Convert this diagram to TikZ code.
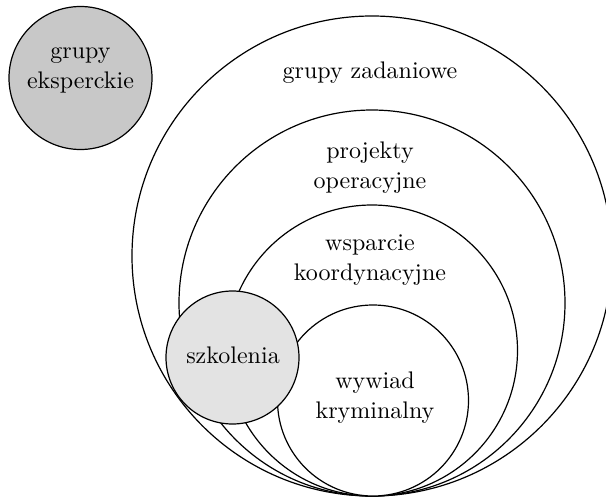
\documentclass[tikz,border=0pt]{standalone}
\usepackage{fontspec}
\setmainfont{lmroman10-regular.otf}
\begin{document}
\begin{tikzpicture}[x=1pt,y=-1pt,
  ring/.style={circle,draw=black,line width=1.2pt,inner sep=0pt,fill=white},
  grey/.style={circle,draw=black,line width=1.2pt,inner sep=0pt},
  lbl/.style={align=center,inner sep=0pt,font=\fontsize{24}{30}\selectfont}]
\useasboundingbox (0,0) rectangle (606,498);
\definecolor{darkgrey}{HTML}{C8C8C8}
\definecolor{lightgrey}{HTML}{E3E3E3}
\node[ring,minimum size=480pt] (zad) at (372,256) {};
\node[ring,minimum size=386pt] (proj) at (372,303) {};
\node[ring,minimum size=291pt] (wsp) at (372,350.5) {};
\node[ring,minimum size=191pt] (wyw) at (373,400.5) {};
\node[grey,fill=lightgrey,minimum size=133pt] (szk) at (232.5,357.5) {};
\node[grey,fill=darkgrey,minimum size=143pt] (eks) at (80.5,78) {};
\node[lbl] (teks) at (80.5,70) {grupy\\eksperckie};
\node[lbl] (tzad) at (370,73) {grupy zadaniowe};
\node[lbl] (tproj) at (370,168) {projekty\\operacyjne};
\node[lbl] (twsp) at (370,260) {wsparcie\\koordynacyjne};
\node[lbl] (tszk) at (233,355) {szkolenia};
\node[lbl] (twyw) at (375,398) {wywiad\\kryminalny};
\end{tikzpicture}
\end{document}
